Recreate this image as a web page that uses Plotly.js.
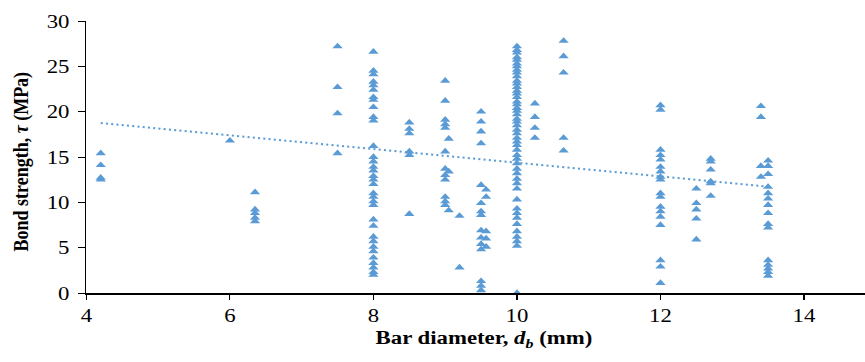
<!DOCTYPE html>
<html>
<head>
<meta charset="utf-8">
<script src="https://cdn.plot.ly/plotly-3.0.1.min.js"></script>
<style>
html,body{margin:0;padding:0;background:#fff;overflow:hidden;}
#wrap{width:865px;height:362px;overflow:hidden;}
#chart{width:721px;height:362px;transform:scaleX(1.1997);transform-origin:0 0;}
</style>
</head>
<body>
<div id="wrap"><div id="chart"></div></div>
<script>
// Bar diameters (mm) and bond strengths (MPa)
const diameters = [4.2, 6, 6.35, 7.5, 8, 8.5, 9, 9.05, 9.2, 9.5, 9.57, 10, 10.25, 10.65, 12, 12.5, 12.7, 13.4, 13.5];
const d4_2  = [15.4, 14.1, 12.7, 12.5];
const d6    = [16.8];
const d6_35 = [11.1, 9.2, 8.8, 8.3, 7.9];
const d7_5  = [27.2, 22.7, 19.8, 15.4];
const d8    = [26.6, 24.5, 24.1, 23.3, 22.9, 22.4, 21.6, 21.3, 20.5, 19.4, 19.0, 16.2, 15.0, 14.5, 13.9, 13.5, 12.9, 12.5, 12.0, 11.0, 10.6, 10.1, 9.7, 8.1, 7.4, 6.2, 5.7, 5.1, 4.6, 3.9, 3.3, 2.8, 2.3, 2.0];
const d8_5  = [18.8, 18.1, 17.6, 15.6, 15.2, 8.7];
const d9    = [23.4, 21.2, 19.1, 18.6, 18.2, 15.6, 13.7, 13.0, 12.5, 10.6, 10.1, 9.7];
const d9_05 = [17.0, 13.4, 9.1];
const d9_2  = [8.5, 2.8];
const d9_5  = [20.0, 18.9, 17.8, 16.5, 11.9, 9.9, 9.0, 8.6, 6.9, 6.1, 5.4, 4.8, 1.3, 0.8, 0.3];
const d9_57 = [11.4, 10.6, 6.8, 6.0, 5.1];
const d10   = [27.2, 26.8, 26.5, 26.0, 25.7, 25.3, 25.0, 24.6, 24.3, 23.9, 23.4, 23.1, 22.7, 22.3, 22.0, 21.6, 21.1, 20.8, 20.4, 20.1, 19.7, 19.2, 18.9, 18.5, 18.0, 17.6, 17.1, 16.7, 16.3, 15.8, 15.2, 14.8, 14.3, 13.7, 13.2, 12.6, 12.1, 11.5, 10.3, 9.3, 8.8, 8.3, 7.6, 6.8, 6.2, 5.7, 5.2, 0.0];
const d10_25 = [20.9, 19.4, 18.2, 17.1];
const d10_65 = [27.8, 26.1, 24.3, 17.1, 15.7];
const d12   = [20.7, 20.2, 15.8, 15.2, 14.7, 13.9, 13.4, 12.8, 12.5, 11.0, 10.6, 9.5, 9.0, 8.4, 7.5, 3.6, 2.9, 1.1];
const d12_5 = [11.5, 9.9, 9.2, 8.2, 5.9];
const d12_7 = [14.8, 14.5, 13.6, 12.3, 12.1, 10.7];
const d13_4 = [20.6, 19.4, 14.0, 12.8];
const d13_5 = [14.6, 14.0, 13.1, 11.7, 11.0, 10.4, 9.7, 8.8, 7.6, 7.2, 3.6, 3.1, 2.7, 2.3, 1.9];
const strengthGroups = [d4_2, d6, d6_35, d7_5, d8, d8_5, d9, d9_05, d9_2, d9_5, d9_57, d10, d10_25, d10_65, d12, d12_5, d12_7, d13_4, d13_5];

// Linear trendline end points (as drawn in the reference)
const trendX = [4.2, 13.5];
const trendY = [18.75, 11.72];

const xTickVals = [4, 6, 8, 10, 12, 14];
const yTickVals = [0, 5, 10, 15, 20, 25, 30];

const xTitle = 'Bar diameter, <i>d</i><sub><i>b</i></sub> (mm)';
const yTitle = 'Bond strength, <i>τ</i> (MPa)';

const xs = [], ys = [];
strengthGroups.forEach((g, i) => g.forEach(v => { xs.push(diameters[i]); ys.push(v); }));

const blue = '#5B9BD5';
const font = 'Liberation Serif, Times New Roman, serif';

const traces = [
  {x: xs, y: ys, type: 'scatter', mode: 'markers',
   marker: {symbol: 'triangle-up', size: 7.5, color: blue, line: {width: 0}}, showlegend: false, hoverinfo: 'skip'},
  {x: trendX, y: trendY, type: 'scatter', mode: 'lines',
   line: {color: blue, width: 2, dash: '1.7px,2.7px'}, showlegend: false, hoverinfo: 'skip'}
];

const layout = {
  width: 721, height: 362,
  margin: {l: 72, r: 0, t: 21, b: 69},
  paper_bgcolor: '#fff', plot_bgcolor: '#fff',
  font: {family: font, color: '#000', size: 19},
  showlegend: false,
  xaxis: {
    range: [4, 14.85], tickvals: xTickVals, ticktext: xTickVals.map(String),
    showgrid: false, zeroline: false, showline: true, linecolor: '#000', linewidth: 1.5,
    ticks: 'outside', ticklen: 5, tickcolor: '#000', tickwidth: 1,
    tickfont: {family: font, size: 19, color: '#000'}
  },
  yaxis: {
    range: [0, 30], tickvals: yTickVals, ticktext: yTickVals.map(String),
    showgrid: false, zeroline: false, showline: true, linecolor: '#000', linewidth: 1.3,
    ticks: 'outside', ticklen: 6, tickcolor: '#000', tickwidth: 1, ticklabelstandoff: 3,
    tickfont: {family: font, size: 19, color: '#000'}
  },
  annotations: [
    {text: xTitle, xref: 'paper', yref: 'paper', x: 0.511, y: 0, yshift: -46,
     xanchor: 'center', yanchor: 'middle', showarrow: false,
     font: {family: font, size: 19, weight: 'bold', color: '#000'}},
    {text: yTitle, xref: 'paper', yref: 'paper', x: 0, y: 0.4835, xshift: -54,
     xanchor: 'center', yanchor: 'middle', textangle: -90, showarrow: false,
     font: {family: font, size: 18, weight: 'bold', color: '#000'}}
  ]
};

Plotly.newPlot('chart', traces, layout, {displayModeBar: false, staticPlot: true});
</script>
</body>
</html>
